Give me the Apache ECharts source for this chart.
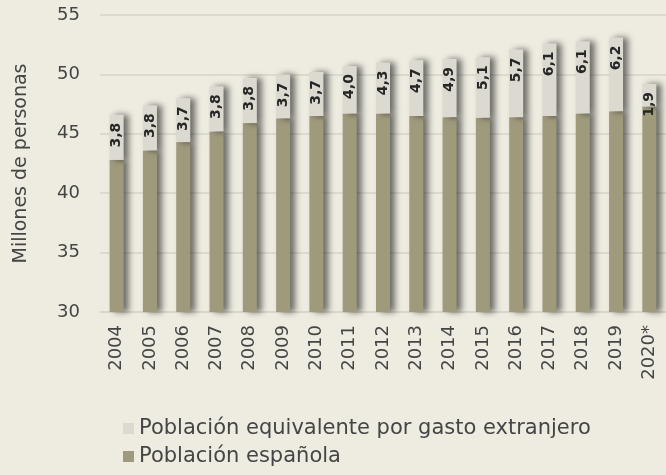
<!DOCTYPE html>
<html>
<head>
<meta charset="utf-8">
<script src="https://cdn.jsdelivr.net/npm/echarts@6/dist/echarts.min.js"></script>
<style>
  html, body { margin: 0; padding: 0; background: #eeece1; }
  #main { width: 666px; height: 475px; }
</style>
</head>
<body>
<div id="main"></div>
<script>
var years = ['2004', '2005', '2006', '2007', '2008', '2009', '2010', '2011', '2012',
  '2013', '2014', '2015', '2016', '2017', '2018', '2019', '2020*'];
// millones de personas
var poblacionEspanola = [42.8, 43.6, 44.3, 45.2, 45.9, 46.3, 46.5, 46.7, 46.7,
  46.5, 46.4, 46.35, 46.4, 46.5, 46.7, 46.9, 47.3];
var gastoExtranjero = [3.8, 3.8, 3.7, 3.8, 3.8, 3.7, 3.7, 4.0, 4.3,
  4.7, 4.9, 5.1, 5.7, 6.1, 6.1, 6.2, 1.9];
var yTicks = [30, 35, 40, 45, 50, 55];

var font = 'DejaVu Sans';
var chart = echarts.init(document.getElementById('main'));

var barShadow = {
  shadowColor: 'rgba(0,0,0,0.55)',
  shadowBlur: 6,
  shadowOffsetX: 5
};

var option = {
  backgroundColor: '#eeece1',
  animation: false,
  textStyle: { fontFamily: font, color: '#454545' },
  grid: { left: 100, right: -4, top: 15, bottom: 163 },
  legend: {
    orient: 'vertical',
    left: 123,
    top: 418,
    padding: 0,
    itemWidth: 11,
    itemHeight: 11,
    itemGap: 7,
    icon: 'rect',
    textStyle: { fontSize: 21, color: '#454545', fontFamily: font },
    data: ['Población equivalente por gasto extranjero', 'Población española']
  },
  xAxis: {
    type: 'category',
    data: years,
    axisLine: { lineStyle: { color: '#d6d4c8', width: 1.5 } },
    axisTick: { show: false },
    axisLabel: {
      rotate: 90,
      fontSize: 18,
      color: '#454545',
      margin: 13,
      interval: 0
    }
  },
  yAxis: {
    type: 'value',
    min: yTicks[0],
    max: yTicks[yTicks.length - 1],
    interval: 5,
    name: 'Millones de personas',
    nameLocation: 'middle',
    nameGap: 69,
    nameTextStyle: { fontSize: 19, color: '#454545' },
    axisLine: { show: false },
    axisTick: { show: false },
    axisLabel: { fontSize: 18, color: '#454545', margin: 20 },
    splitLine: { lineStyle: { color: '#d6d4c8', width: 1.5 } }
  },
  series: [
    {
      name: 'Población española',
      type: 'bar',
      stack: 'total',
      barWidth: 14,
      data: poblacionEspanola,
      itemStyle: Object.assign({ color: '#a09a7d' }, barShadow)
    },
    {
      name: 'Población equivalente por gasto extranjero',
      type: 'bar',
      stack: 'total',
      barWidth: 14,
      data: gastoExtranjero,
      itemStyle: Object.assign({ color: '#dcdad0' }, barShadow),
      label: {
        show: true,
        position: 'insideTop',
        rotate: 90,
        align: 'right',
        verticalAlign: 'middle',
        distance: 8,
        fontSize: 14,
        fontWeight: 'bold',
        color: '#262626',
        formatter: function (p) {
          return p.value.toFixed(1).replace('.', ',');
        }
      }
    }
  ]
};

chart.setOption(option);
</script>
</body>
</html>
